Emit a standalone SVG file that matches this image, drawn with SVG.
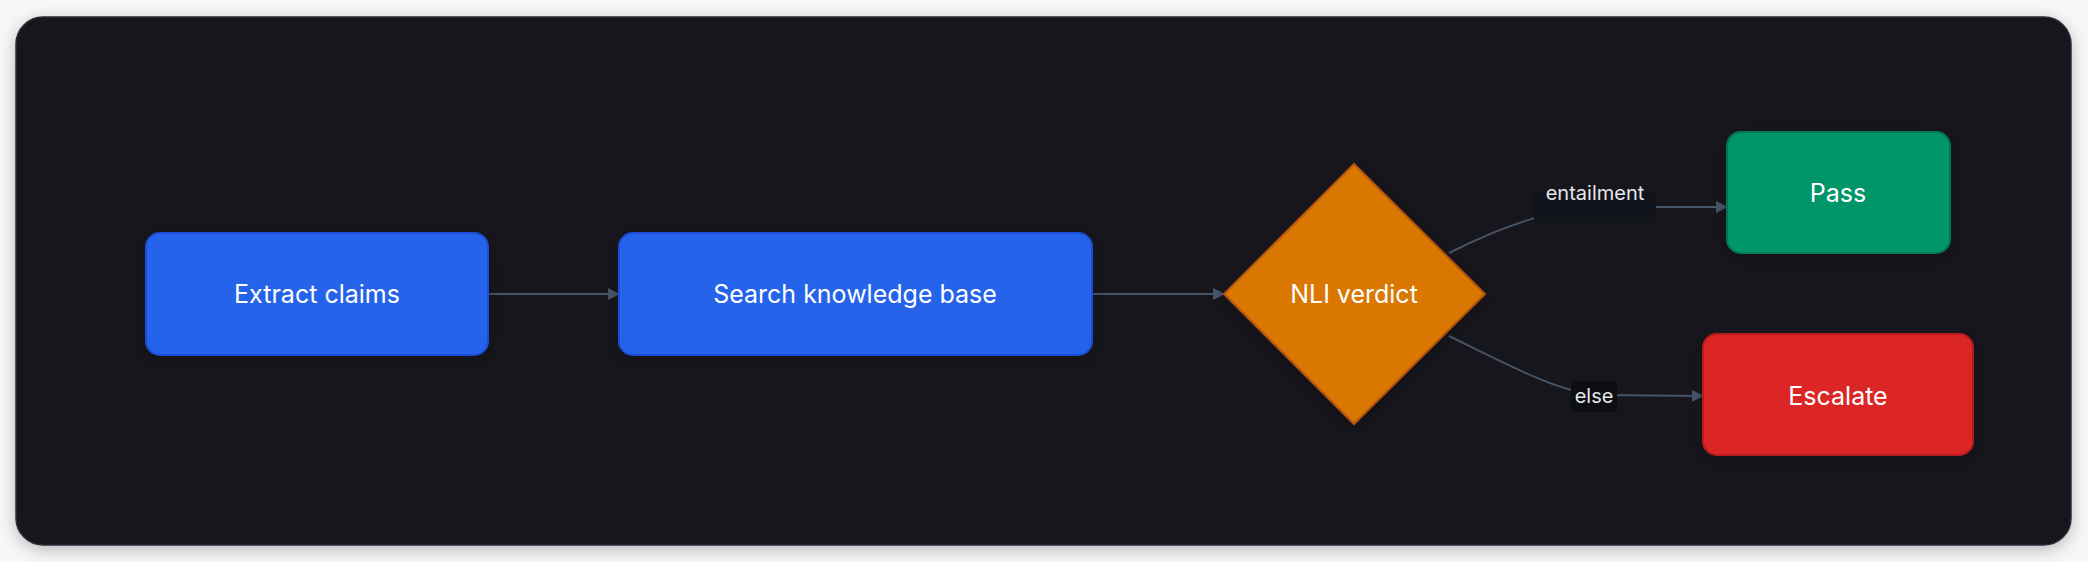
<svg xmlns="http://www.w3.org/2000/svg" width="2088" height="562" viewBox="0 0 2088 562">
<defs>
<filter id="sh" x="-10%" y="-10%" width="120%" height="130%"><feDropShadow dx="0" dy="4" stdDeviation="8" flood-color="#000" flood-opacity="0.25"/></filter>
<marker id="ar" markerWidth="12" markerHeight="12" refX="11" refY="6" orient="auto" markerUnits="userSpaceOnUse"><path d="M0,0 L12,6 L0,12 z" fill="#475569"/></marker>
<style>
.lbl{font-family:Inter,"Liberation Sans",sans-serif;font-size:25px;fill:#ffffff;text-anchor:middle;dominant-baseline:central}
.el{font-family:Inter,"Liberation Sans",sans-serif;font-size:20px;fill:#e5e7eb;text-anchor:middle;dominant-baseline:central}
.e{fill:none;stroke:#475569;stroke-width:2}
</style>
</defs>
<rect width="2088" height="562" fill="#f7f7f8"/>
<rect x="16" y="17" width="2055" height="528" rx="27" fill="#12141b" stroke="#2a2e38" stroke-width="1.5" filter="url(#sh)"/>
<g id="connectors">
<path class="e" d="M488,294 L619,294" marker-end="url(#ar)"/>
<path class="e" d="M1092,294 L1224,294" marker-end="url(#ar)"/>
<path class="e" d="M1449,253 C1510,222 1560,207 1610,207 L1727,207" marker-end="url(#ar)"/>
<path class="e" d="M1449,336 C1510,366 1560,393 1600,395 L1703,396" marker-end="url(#ar)"/>
<rect x="1534" y="192" width="122" height="31" fill="#12141b"/>
<text class="el" x="1595" y="193">entailment</text>
<rect x="1571" y="381" width="46" height="31" fill="#0d0e11"/>
<text class="el" x="1594" y="396">else</text>
</g>
<g id="extract"><rect x="146" y="233" width="342" height="122" rx="14" fill="#2563eb" stroke="#1d4ed8" stroke-width="2" filter="url(#sh)"/><text class="lbl" x="317" y="294">Extract claims</text></g>
<g id="search"><rect x="619" y="233" width="473" height="122" rx="14" fill="#2563eb" stroke="#1d4ed8" stroke-width="2" filter="url(#sh)"/><text class="lbl" x="855" y="294">Search knowledge base</text></g>
<g id="nli"><polygon points="1354,164 1485,294 1354,424 1224,294" fill="#d97706" stroke="#b45309" stroke-width="2" filter="url(#sh)"/><text class="lbl" x="1354" y="294">NLI verdict</text></g>
<g id="pass"><rect x="1727" y="132" width="223" height="121" rx="14" fill="#059669" stroke="#047857" stroke-width="2" filter="url(#sh)"/><text class="lbl" x="1838" y="193">Pass</text></g>
<g id="escalate"><rect x="1703" y="334" width="270" height="121" rx="14" fill="#dc2626" stroke="#b91c1c" stroke-width="2" filter="url(#sh)"/><text class="lbl" x="1838" y="396">Escalate</text></g>
</svg>
